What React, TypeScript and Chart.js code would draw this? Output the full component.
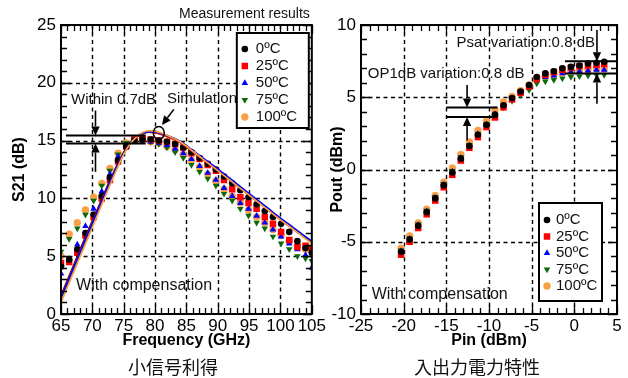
import React, { useEffect, useRef } from 'react';
import { Chart, registerables } from 'chart.js';
Chart.register(...registerables);

// ---------- shared ----------
const TEMPS = ['0ºC', '25ºC', '50ºC', '75ºC', '100ºC'];
const COLORS = ['#000000', '#ff0000', '#0000ff', '#0b6b0b', '#f9a047'];
const MARK = [
  { style: 'circle', r: 3.3, rot: 0 },
  { style: 'rect', r: 4.6, rot: 0 },
  { style: 'triangle', r: 3.8, rot: 0 },
  { style: 'triangle', r: 3.8, rot: 180 },
  { style: 'circle', r: 3.7, rot: 0 },
];
const TICK_FONT = "'Liberation Sans Narrow', 'Liberation Sans', Arial, sans-serif";
const TEXT_FONT = "'Liberation Sans', Arial, sans-serif";

// ---------- left chart: small-signal gain ----------
const freqGHz = [65.0, 66.3, 67.6, 68.9, 70.2, 71.5, 72.8, 74.1, 75.4, 76.7, 78.0, 79.3, 80.6, 81.9, 83.2, 84.5, 85.8, 87.1, 88.4, 89.7, 91.0, 92.3, 93.6, 94.9, 96.2, 97.5, 98.8, 100.1, 101.4, 102.7, 104.0, 105.0];
const s21_0C = [4.1, 4.7, 5.6, 7.0, 8.6, 10.2, 11.8, 13.3, 14.5, 15.0, 15.1, 15.1, 15.0, 14.9, 14.7, 14.4, 14.0, 13.5, 13.0, 12.5, 11.9, 11.3, 10.7, 10.1, 9.5, 8.9, 8.4, 7.8, 7.1, 6.3, 5.7, 5.3];
const s21_25C = [4.4, 4.5, 5.3, 6.8, 8.4, 10.0, 11.6, 13.2, 14.5, 15.1, 15.2, 15.1, 15.0, 14.9, 14.7, 14.4, 13.9, 13.4, 12.9, 12.4, 11.6, 10.8, 10.1, 9.6, 9.1, 8.4, 7.8, 7.1, 6.4, 5.8, 5.9, 5.7];
const s21_50C = [3.5, 4.7, 6.0, 7.6, 9.1, 10.6, 12.1, 13.6, 14.6, 15.0, 15.0, 14.9, 14.8, 14.6, 14.3, 13.9, 13.4, 12.8, 12.2, 11.6, 10.9, 10.2, 9.6, 9.1, 8.5, 7.9, 7.3, 6.7, 6.1, 5.6, 5.1, 4.0];
const s21_75C = [5.4, 6.5, 7.4, 8.6, 9.8, 11.1, 12.4, 13.8, 14.8, 15.1, 15.1, 14.9, 14.7, 14.4, 14.0, 13.5, 12.9, 12.3, 11.7, 11.1, 10.4, 9.8, 9.1, 8.5, 7.9, 7.4, 6.7, 6.1, 5.6, 5.0, 4.8, 4.6];
const s21_100C = [5.0, 6.9, 7.9, 9.0, 10.1, 11.3, 12.6, 13.9, 14.8, 15.1, 15.1, 14.9, 14.8, 14.5, 14.2, 13.8, 13.3, 12.7, 12.1, 11.5, 10.8, 10.2, 9.6, 9.0, 8.4, 7.9, 7.3, 6.8, 6.3, 5.9, 5.6, 5.4];

const simFreqGHz = [65, 67, 69, 71, 73, 75, 76, 77, 78, 79, 80, 81, 82, 84, 86, 88, 90, 92, 94, 96, 98, 100, 102, 104, 105];
const sim_0C = [1.6, 4.2, 6.8, 9.3, 11.8, 14.0, 14.8, 15.3, 15.6, 15.72, 15.7, 15.55, 15.35, 14.85, 14.05, 13.25, 12.45, 11.6, 10.75, 9.9, 9.05, 8.2, 7.4, 6.6, 6.2];
const sim_25C = [1.5, 4.1, 6.7, 9.2, 11.7, 13.95, 14.75, 15.28, 15.6, 15.72, 15.68, 15.52, 15.32, 14.82, 14.02, 13.2, 12.4, 11.55, 10.7, 9.85, 9.0, 8.15, 7.35, 6.55, 6.15];
const sim_50C = [1.4, 4.0, 6.6, 9.1, 11.65, 13.9, 14.75, 15.3, 15.62, 15.75, 15.74, 15.6, 15.42, 14.95, 14.15, 13.35, 12.55, 11.7, 10.85, 10.0, 9.15, 8.3, 7.5, 6.7, 6.3];
const sim_75C = [1.2, 3.8, 6.4, 9.0, 11.5, 13.85, 14.7, 15.3, 15.65, 15.8, 15.78, 15.62, 15.42, 14.9, 14.1, 13.3, 12.45, 11.6, 10.75, 9.9, 9.05, 8.2, 7.4, 6.6, 6.2];
const sim_100C = [1.0, 3.6, 6.2, 8.8, 11.4, 13.8, 14.7, 15.3, 15.7, 15.85, 15.82, 15.65, 15.45, 14.9, 14.1, 13.25, 12.4, 11.55, 10.7, 9.85, 9.0, 8.15, 7.35, 6.5, 6.1];

const freqTicks = [65, 70, 75, 80, 85, 90, 95, 100, 105];
const s21Ticks = [0, 5, 10, 15, 20, 25];

// ---------- right chart: input/output power ----------
const pinDbm = [-20.3, -19.3, -18.3, -17.3, -16.3, -15.3, -14.3, -13.3, -12.3, -11.3, -10.3, -9.3, -8.3, -7.3, -6.3, -5.3, -4.4, -3.4, -2.4, -1.4, -0.4, 0.6, 1.6, 2.6, 3.5];
const pout_0C = [-5.7, -4.85, -3.9, -2.95, -2.0, -1.1, -0.2, 0.75, 1.62, 2.4, 3.1, 3.8, 4.45, 4.95, 5.4, 5.85, 6.4, 6.65, 6.8, 7.0, 7.1, 7.2, 7.33, 7.38, 7.45];
const pout_25C = [-5.9, -5.0, -4.05, -3.1, -2.15, -1.23, -0.37, 0.62, 1.5, 2.24, 2.94, 3.6, 4.3, 4.85, 5.3, 5.75, 6.25, 6.55, 6.75, 6.9, 7.05, 7.15, 7.2, 7.25, 7.3];
const pout_50C = [-5.65, -4.8, -3.85, -2.9, -1.95, -1.05, -0.15, 0.8, 1.65, 2.45, 3.1, 3.8, 4.4, 4.85, 5.3, 5.7, 6.2, 6.4, 6.5, 6.65, 6.75, 6.8, 6.85, 6.9, 6.9];
const pout_75C = [-5.6, -4.75, -3.8, -2.85, -1.9, -1.0, -0.1, 0.85, 1.7, 2.45, 3.1, 3.75, 4.3, 4.75, 5.15, 5.5, 5.95, 6.1, 6.2, 6.3, 6.4, 6.45, 6.5, 6.55, 6.55];
const pout_100C = [-5.45, -4.6, -3.7, -2.75, -1.8, -0.88, 0.1, 1.04, 1.9, 2.7, 3.35, 4.1, 4.67, 5.05, 5.45, 5.85, 6.3, 6.45, 6.55, 6.7, 6.8, 6.85, 6.9, 6.95, 6.95];

const pinTicks = [-25, -20, -15, -10, -5, 0, 5];
const poutTicks = [-10, -5, 0, 5, 10];

// ---------- drawing helpers ----------
function drawMarker(ctx: CanvasRenderingContext2D, i: number, x: number, y: number) {
  const m = MARK[i];
  ctx.save();
  ctx.fillStyle = COLORS[i];
  ctx.beginPath();
  if (m.style === 'circle') ctx.arc(x, y, m.r, 0, Math.PI * 2);
  else if (m.style === 'rect') {
    const s = m.r * Math.SQRT1_2;
    ctx.rect(x - s, y - s, 2 * s, 2 * s);
  } else {
    const d = m.rot ? -1 : 1;
    const r = m.r;
    ctx.moveTo(x, y - d * r);
    ctx.lineTo(x + r * 0.866, y + d * r * 0.5);
    ctx.lineTo(x - r * 0.866, y + d * r * 0.5);
    ctx.closePath();
  }
  ctx.fill();
  ctx.restore();
}

function arrow(ctx: CanvasRenderingContext2D, x1: number, y1: number, x2: number, y2: number) {
  const ang = Math.atan2(y2 - y1, x2 - x1);
  const hl = 9, hw = 4.2;
  const bx = x2 - Math.cos(ang) * hl, by = y2 - Math.sin(ang) * hl;
  ctx.save();
  ctx.strokeStyle = '#000';
  ctx.fillStyle = '#000';
  ctx.lineWidth = 1.6;
  ctx.beginPath();
  ctx.moveTo(x1, y1);
  ctx.lineTo(bx, by);
  ctx.stroke();
  ctx.beginPath();
  ctx.moveTo(x2, y2);
  ctx.lineTo(bx - Math.sin(ang) * hw, by + Math.cos(ang) * hw);
  ctx.lineTo(bx + Math.sin(ang) * hw, by - Math.cos(ang) * hw);
  ctx.closePath();
  ctx.fill();
  ctx.restore();
}

function hline(ctx: CanvasRenderingContext2D, x1: number, x2: number, y: number) {
  ctx.save();
  ctx.strokeStyle = '#000';
  ctx.lineWidth = 2;
  ctx.beginPath();
  ctx.moveTo(x1, y);
  ctx.lineTo(x2, y);
  ctx.stroke();
  ctx.restore();
}

function text(ctx: CanvasRenderingContext2D, s: string, x: number, y: number, size: number, align: CanvasTextAlign = 'left') {
  ctx.save();
  ctx.fillStyle = '#111';
  ctx.font = `${size}px ${TEXT_FONT}`;
  ctx.textAlign = align;
  ctx.textBaseline = 'middle';
  ctx.fillText(s, x, y);
  ctx.restore();
}

function legend(ctx: CanvasRenderingContext2D, bx: number, by: number, bw: number, bh: number, rows: number[], mx: number, tx: number, size: number) {
  ctx.save();
  ctx.fillStyle = '#fff';
  ctx.fillRect(bx, by, bw, bh);
  ctx.strokeStyle = '#000';
  ctx.lineWidth = 2;
  ctx.strokeRect(bx, by, bw, bh);
  ctx.restore();
  TEMPS.forEach((t, i) => {
    drawMarker(ctx, i, bx + mx, by + rows[i]);
    text(ctx, t, bx + tx, by + rows[i], size);
  });
}

type FrameCfg = {
  xMinor: number; yMinor: number; xMajor: number; yMajor: number;
  gridX: number[]; gridY: number[];
  annotate: (chart: any, ctx: CanvasRenderingContext2D, sx: (v: number) => number, sy: (v: number) => number) => void;
};

function framePlugin(cfg: FrameCfg) {
  return {
    id: 'frame',
    beforeDatasetsDraw(chart: any) {
      const { ctx, chartArea: a, scales } = chart;
      ctx.save();
      ctx.strokeStyle = '#000';
      ctx.lineWidth = 1.4;
      ctx.setLineDash([4, 3.5]);
      cfg.gridX.forEach((v) => {
        const x = Math.round(scales.x.getPixelForValue(v)) + 0.5;
        ctx.beginPath(); ctx.moveTo(x, a.top); ctx.lineTo(x, a.bottom); ctx.stroke();
      });
      cfg.gridY.forEach((v) => {
        const y = Math.round(scales.y.getPixelForValue(v)) + 0.5;
        ctx.beginPath(); ctx.moveTo(a.left, y); ctx.lineTo(a.right, y); ctx.stroke();
      });
      ctx.restore();
    },
    afterDatasetsDraw(chart: any) {
      const { ctx, chartArea: a, scales } = chart;
      const sx = (v: number) => scales.x.getPixelForValue(v);
      const sy = (v: number) => scales.y.getPixelForValue(v);
      ctx.save();
      ctx.strokeStyle = '#000';
      ctx.lineWidth = 1.3;
      const isMajor = (v: number, m: number) => Math.abs(v / m - Math.round(v / m)) < 1e-6;
      for (let v = scales.x.min; v <= scales.x.max + 1e-9; v += cfg.xMinor) {
        const x = Math.round(sx(v)) + 0.5;
        const len = isMajor(v, cfg.xMajor) ? 9 : 6;
        ctx.beginPath();
        ctx.moveTo(x, a.bottom); ctx.lineTo(x, a.bottom - len);
        ctx.moveTo(x, a.top); ctx.lineTo(x, a.top + len);
        ctx.stroke();
      }
      for (let v = scales.y.min; v <= scales.y.max + 1e-9; v += cfg.yMinor) {
        const y = Math.round(sy(v)) + 0.5;
        const len = isMajor(v, cfg.yMajor) ? 9 : 6;
        ctx.beginPath();
        ctx.moveTo(a.left, y); ctx.lineTo(a.left + len, y);
        ctx.moveTo(a.right, y); ctx.lineTo(a.right - len, y);
        ctx.stroke();
      }
      ctx.lineWidth = 2;
      ctx.strokeRect(a.left, a.top, a.right - a.left, a.bottom - a.top);
      ctx.restore();
      cfg.annotate(chart, ctx, sx, sy);
    },
  };
}

function makeScales(o: {
  xMin: number; xMax: number; yMin: number; yMax: number; xTicks: number[]; yTicks: number[];
  xTitle: string; yTitle: string; yWidth: number; yTitlePad: number;
}) {
  return {
    x: {
      type: 'linear', min: o.xMin, max: o.xMax,
      afterBuildTicks: (s: any) => { s.ticks = o.xTicks.map((v) => ({ value: v })); },
      afterFit: (s: any) => { s.height = 64; },
      ticks: { font: { family: TICK_FONT, size: 17 }, color: '#000', padding: 2, maxRotation: 0, autoSkip: false },
      grid: { display: false, drawTicks: false },
      border: { display: false },
      title: { display: true, text: o.xTitle, color: '#000', font: { family: TICK_FONT, size: 16, weight: 'bold' }, padding: { top: 0, bottom: 28 } },
    },
    y: {
      type: 'linear', min: o.yMin, max: o.yMax,
      afterBuildTicks: (s: any) => { s.ticks = o.yTicks.map((v) => ({ value: v })); },
      afterFit: (s: any) => { s.width = o.yWidth; },
      ticks: { font: { family: TICK_FONT, size: 17 }, color: '#000', padding: 5, autoSkip: false },
      grid: { display: false, drawTicks: false },
      border: { display: false },
      title: { display: true, text: o.yTitle, color: '#000', font: { family: TICK_FONT, size: 16, weight: 'bold' }, padding: { top: o.yTitlePad, bottom: 0 } },
    },
  };
}

function scatterSets(xs: number[], series: number[][]) {
  return series.map((ys, i) => ({
    type: 'scatter',
    label: TEMPS[i],
    data: xs.map((x, k) => ({ x, y: ys[k] })),
    showLine: false,
    pointStyle: MARK[i].style,
    pointRadius: MARK[i].r,
    pointRotation: MARK[i].rot,
    pointBackgroundColor: COLORS[i],
    pointBorderColor: COLORS[i],
    pointBorderWidth: 0,
    order: 10 + i,
  }));
}

function lineSets(xs: number[], series: number[][]) {
  const lineOrder = [4, 3, 1, 2, 0];
  return series.map((ys, i) => ({
    type: 'scatter',
    label: 'sim ' + TEMPS[i],
    data: xs.map((x, k) => ({ x, y: ys[k] })),
    showLine: true,
    borderColor: COLORS[i],
    borderWidth: 1.6,
    pointRadius: 0,
    cubicInterpolationMode: 'monotone',
    order: lineOrder[i],
  }));
}

const baseOptions = {
  responsive: false,
  animation: false,
  devicePixelRatio: 1,
  events: [],
  plugins: { legend: { display: false }, tooltip: { enabled: false } },
};

function GainChart() {
  const ref = useRef<HTMLCanvasElement>(null);
  useEffect(() => {
    const chart = new Chart(ref.current as HTMLCanvasElement, {
      type: 'scatter',
      data: {
        datasets: [
          ...lineSets(simFreqGHz, [sim_0C, sim_25C, sim_50C, sim_75C, sim_100C]),
          ...scatterSets(freqGHz, [s21_0C, s21_25C, s21_50C, s21_75C, s21_100C]),
        ] as any,
      },
      options: {
        ...baseOptions,
        layout: { padding: { left: 0, top: 25, right: 13, bottom: 0 } },
        scales: makeScales({
          xMin: 65, xMax: 105, yMin: 0, yMax: 25, xTicks: freqTicks, yTicks: s21Ticks,
          xTitle: 'Frequency (GHz)', yTitle: 'S21 (dB)', yWidth: 61, yTitlePad: 10,
        }) as any,
      } as any,
      plugins: [framePlugin({
        xMinor: 1, yMinor: 1, xMajor: 5, yMajor: 5,
        gridX: [70, 75, 80, 85, 90, 95, 100], gridY: [5, 10, 15, 20],
        annotate: (chart, ctx, sx, sy) => {
          const a = chart.chartArea;
          hline(ctx, sx(65.8), sx(78.5), sy(15.45));
          hline(ctx, sx(65.8), sx(78.5), sy(14.75));
          arrow(ctx, sx(70.5), sy(17.6), sx(70.5), sy(15.45));
          arrow(ctx, sx(70.5), sy(12.3), sx(70.5), sy(14.75));
          text(ctx, 'Within 0.7dB', sx(66.6), sy(18.5), 15);
          text(ctx, 'Simulation', sx(81.9), sy(18.6), 15);
          arrow(ctx, sx(83.0), sy(17.7), sx(81.1), sy(16.35));
          ctx.save();
          ctx.strokeStyle = '#000';
          ctx.lineWidth = 1.5;
          ctx.beginPath();
          ctx.ellipse(sx(80.6), sy(15.66), 5.5, 6.5, 0, 0, Math.PI * 2);
          ctx.stroke();
          ctx.restore();
          text(ctx, 'With compensation', sx(67.4), sy(2.45), 16);
          text(ctx, 'Measurement results', a.right - 2, a.top - 11, 14, 'right');
          legend(ctx, a.right - 75, a.top + 8, 72, 95, [16, 33, 50, 67, 84], 8, 19, 15);
        },
      }) as any],
    });
    return () => chart.destroy();
  }, []);
  return <canvas ref={ref} width={328} height={378} style={{ position: 'absolute', left: 0, top: 0, width: 328, height: 378 }} />;
}

function PowerChart() {
  const ref = useRef<HTMLCanvasElement>(null);
  useEffect(() => {
    const chart = new Chart(ref.current as HTMLCanvasElement, {
      type: 'scatter',
      data: {
        datasets: scatterSets(pinDbm, [pout_0C, pout_25C, pout_50C, pout_75C, pout_100C]) as any,
      },
      options: {
        ...baseOptions,
        layout: { padding: { left: 0, top: 25, right: 11, bottom: 0 } },
        scales: makeScales({
          xMin: -25, xMax: 5, yMin: -10, yMax: 10, xTicks: pinTicks, yTicks: poutTicks,
          xTitle: 'Pin (dBm)', yTitle: 'Pout (dBm)', yWidth: 41, yTitlePad: 8,
        }) as any,
      } as any,
      plugins: [framePlugin({
        xMinor: 1, yMinor: 1, xMajor: 5, yMajor: 5,
        gridX: [-20, -15, -10, -5, 0], gridY: [-5, 0, 5],
        annotate: (chart, ctx, sx, sy) => {
          const a = chart.chartArea;
          hline(ctx, sx(-1.1), a.right, sy(7.5));
          hline(ctx, sx(-1.1), a.right, sy(6.64));
          arrow(ctx, sx(2.65), sy(9.65), sx(2.65), sy(7.5));
          arrow(ctx, sx(2.65), sy(4.55), sx(2.65), sy(6.64));
          text(ctx, 'Psat variation:0.8 dB', sx(-13.8), sy(8.75), 15);
          hline(ctx, sx(-15), sx(-9.0), sy(4.29));
          hline(ctx, sx(-15), sx(-9.0), sy(3.63));
          arrow(ctx, sx(-12.57), sy(5.85), sx(-12.57), sy(4.29));
          arrow(ctx, sx(-12.57), sy(2.0), sx(-12.57), sy(3.63));
          text(ctx, 'OP1dB variation:0.8 dB', sx(-24.2), sy(6.6), 15);
          text(ctx, 'With compensation', sx(-23.75), sy(-8.63), 16);
          legend(ctx, a.right - 78, a.bottom - 111, 63, 98, [17, 33.5, 50, 66.5, 83], 8, 17, 15);
        },
      }) as any],
    });
    return () => chart.destroy();
  }, []);
  return <canvas ref={ref} width={308} height={378} style={{ position: 'absolute', left: 320, top: 0, width: 308, height: 378 }} />;
}

const captionStyle: React.CSSProperties = {
  position: 'absolute', top: 355, width: 200, height: 22, lineHeight: '22px', textAlign: 'center',
  fontFamily: "'Noto Sans CJK JP', 'Noto Sans CJK SC', sans-serif", fontSize: 18, color: '#111',
};

export default function App() {
  return (
    <div style={{ position: 'fixed', left: 0, top: 0, width: 628, height: 378, background: '#fff', overflow: 'hidden' }}>
      <GainChart />
      <PowerChart />
      <div style={{ ...captionStyle, left: 73 }}>小信号利得</div>
      <div style={{ ...captionStyle, left: 377 }}>入出力電力特性</div>
    </div>
  );
}
